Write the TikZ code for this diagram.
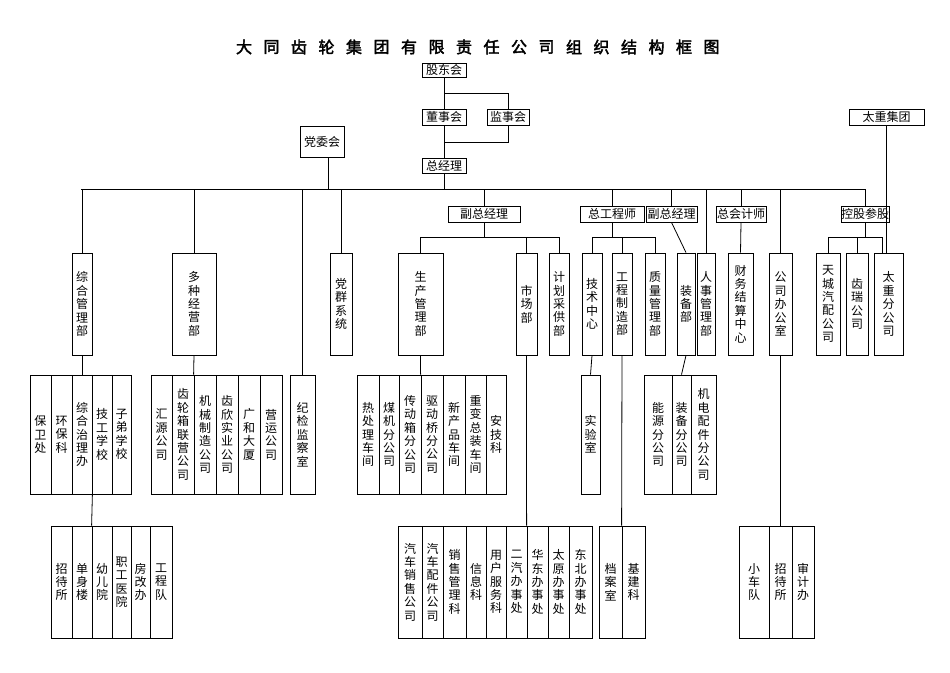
\documentclass[tikz,border=0pt]{standalone}
\usepackage{fontspec}
\setmainfont{Noto Sans CJK SC}
\newfontfamily\titlefont[FakeBold=2.5]{Noto Sans CJK SC}
\XeTeXlinebreaklocale "zh"
\XeTeXlinebreakskip=0pt plus 1pt
\usetikzlibrary{positioning}

% box from x1 to x2, y1 to y2 (pixels, y down)
\newcommand\bx[7][vbox]{\node[#1, minimum width={(#4-#3)*1pt}, minimum height={(#6-#5)*1pt}] (#2) at ({(#3+#4)/2},{(#5+#6)/2}) {#7};}

\begin{document}
\begin{tikzpicture}[
	x=1pt, y=-1pt,
	box/.style={draw, line width=0.8pt, inner sep=0pt, font=\fontsize{12}{13.4}\selectfont},
	vbox/.style={box, text width=13pt, align=center},
	hbox/.style={box},
	line/.style={line width=0.8pt}
]
\useasboundingbox (0,0) rectangle (950,672);

% title
\foreach \c [count=\i from 0] in {大,同,齿,轮,集,团,有,限,责,任,公,司,组,织,结,构,框,图}
	\node[font=\titlefont\fontsize{16}{16}\selectfont] (t\i) at (244+27.5*\i,47) {\c};

% top
\bx[hbox]{gdh}{422}{466}{63}{77}{股东会}
\bx[hbox]{dsh}{422}{466}{109}{125}{董事会}
\bx[hbox]{jsh}{487}{529}{109}{125}{监事会}
\bx[hbox]{zjl}{422}{466}{158}{173}{总经理}
\bx[hbox]{dwh}{300}{344}{126}{157}{党委会}
\bx[hbox]{tzjt}{849}{924}{109}{125}{太重集团}

\coordinate (busL) at (81,189);
\coordinate (busR) at (865,189);

% second level
\bx[hbox]{fzjl}{448}{520}{206}{222}{副总经理}
\bx[hbox]{zgcs}{580}{644}{206}{222}{总工程师}
\bx[hbox]{fzjlb}{646}{697}{206}{222}{副总经理}
\bx[hbox]{zkjs}{716}{766}{206}{222}{总会计师}
\bx[hbox]{kgcg}{841}{889}{206}{222}{控股参股}

% departments
\bx{zhgl}{72}{92}{253}{355}{综合管理部}
\bx{dzjy}{172}{216}{253}{355}{多种经营部}
\bx{dqxt}{330}{352}{253}{355}{党群系统}
\bx{scgl}{398}{443}{253}{355}{生产管理部}
\bx{scb}{516}{537}{253}{355}{市场部}
\bx{jhcg}{549}{569}{253}{355}{计划采供部}
\bx{jszx}{582}{602}{253}{355}{技术中心}
\bx{gczz}{612}{632}{253}{355}{工程制造部}
\bx{zlgl}{645}{665}{253}{355}{质量管理部}
\bx{zbb}{677}{695}{253}{355}{装备部}
\bx{rsgl}{697}{715}{253}{355}{人事管理部}
\bx{cwjs}{728}{753}{253}{355}{财务结算中心}
\bx{gsbgs}{769}{792}{253}{355}{公司办公室}
\bx{tcqp}{816}{840}{253}{355}{天城汽配公司}
\bx{crgs}{846}{868}{253}{355}{齿瑞公司}
\bx{tzfgs}{874}{903}{253}{355}{太重分公司}

% row two
\bx{bwc}{30}{51}{375}{494}{保卫处}
\bx{hbk}{51}{72}{375}{494}{环保科}
\bx{zhzl}{72}{92}{375}{494}{综合治理办}
\bx{jgxx}{92}{112}{375}{494}{技工学校}
\bx{zdxx}{112}{131}{375}{494}{子弟学校}

\bx{hygs}{151}{172}{375}{494}{汇源公司}
\bx{clx}{172}{194}{375}{494}{齿轮箱联营公司}
\bx{jxzz}{194}{216}{375}{494}{机械制造公司}
\bx{cxsy}{216}{238}{375}{494}{齿欣实业公司}
\bx{ghds}{238}{260}{375}{494}{广和大厦}
\bx{yygs}{260}{282}{375}{494}{营运公司}

\bx{jjjc}{290}{315}{375}{494}{纪检监察室}

\bx{rcl}{357}{379}{375}{494}{热处理车间}
\bx{mjfgs}{379}{399}{375}{494}{煤机分公司}
\bx{cdx}{399}{421}{375}{494}{传动箱分公司}
\bx{qdq}{421}{443}{375}{494}{驱动桥分公司}
\bx{xcp}{443}{465}{375}{494}{新产品车间}
\bx{zbzz}{465}{486}{375}{494}{重变总装车间}
\bx{ajk}{486}{506}{375}{494}{安技科}

\bx{syss}{581}{600}{375}{494}{实验室}

\bx{nyfgs}{644}{672}{375}{494}{能源分公司}
\bx{zbfgs}{672}{691}{375}{494}{装备分公司}
\bx{jdpj}{691}{716}{375}{494}{机电配件分公司}

% row three
\bx{zds}{51}{72}{526}{638}{招待所}
\bx{dsl}{72}{92}{526}{638}{单身楼}
\bx{yey}{92}{112}{526}{638}{幼儿院}
\bx{zgyy}{112}{131}{526}{638}{职工医院}
\bx{fgb}{131}{150}{526}{638}{房改办}
\bx{gcd}{150}{172}{526}{638}{工程队}

\bx{qcxs}{398}{422}{526}{638}{汽车销售公司}
\bx{qcpj}{422}{443}{526}{638}{汽车配件公司}
\bx{xsgl}{443}{466}{526}{638}{销售管理科}
\bx{xxk}{466}{486}{526}{638}{信息科}
\bx{yhfw}{486}{506}{526}{638}{用户服务科}
\bx{eqbsc}{506}{527}{526}{638}{二汽办事处}
\bx{hdbsc}{527}{548}{526}{638}{华东办事处}
\bx{tybsc}{548}{569}{526}{638}{太原办事处}
\bx{dbbsc}{569}{592}{526}{638}{东北办事处}

\bx{das}{599}{622}{526}{638}{档案室}
\bx{jjk}{622}{645}{526}{638}{基建科}

\bx{xcd}{739}{769}{526}{638}{小车队}
\bx{zdsb}{769}{792}{526}{638}{招待所}
\bx{sjb}{792}{814}{526}{638}{审计办}

% connectors
\draw[line] (gdh) -- (dsh);
\draw[line] (dsh) -- (zjl);
\draw[line] (gdh.south |- 0,93) -| (jsh.north);
\draw[line] (jsh.south) |- (zjl.north |- 0,142);
\draw[line] (zjl.south) -- (zjl.south |- busL);
\draw[line] (busL) -- (busR);
\draw[line] ([xshift=6pt]dwh.south) -- ([xshift=6pt]dwh.south |- busL);
\foreach \n in {zhgl, dzjy, dqxt, jjjc, fzjl, zgcs, fzjlb, zkjs, kgcg, rsgl, gsbgs}
	\draw[line] (\n.north) -- (\n.north |- busL);
\draw[line] (fzjlb.south) -- (zbb.north);
\draw[line] (zkjs.south) -- (cwjs.north);
\draw[line] (tzjt.south) -- (tzjt.south |- tzfgs.north);

% sub-buses
\draw[line] (scgl.north) |- (jhcg.north |- 0,237) -- (jhcg.north);
\draw[line] (scb.north) -- (scb.north |- 0,237);
\draw[line] (fzjl.south) -- (fzjl.south |- 0,237);
\draw[line] (jszx.north) |- (zlgl.north |- 0,237) -- (zlgl.north);
\draw[line] (gczz.north) -- (gczz.north |- 0,237);
\draw[line] (zgcs.south) -- (zgcs.south |- 0,237);
\draw[line] (tcqp.north) |- ([xshift=-6pt]tzfgs.north |- 0,237) -- ([xshift=-6pt]tzfgs.north);
\draw[line] (crgs.north) -- (crgs.north |- 0,237);
\draw[line] (kgcg.south) -- (kgcg.south |- 0,237);

% down to rows
\draw[line] (zhgl.south) -- (zhzl.north);
\draw[line] (zhzl.south east) -- (yey.north west);
\draw[line] (dzjy.south) -- (jxzz.north west);
\draw[line] (scgl.south) -- (qdq.north west);
\draw[line] (scb.south) -- (hdbsc.north west);
\draw[line] (jszx.south) -- (syss.north);
\draw[line] (gczz.south) -- (jjk.north west);
\draw[line] (zbb.south) -- (zbfgs.north);
\draw[line] (gsbgs.south) -- (zdsb.north);

\end{tikzpicture}
\end{document}
